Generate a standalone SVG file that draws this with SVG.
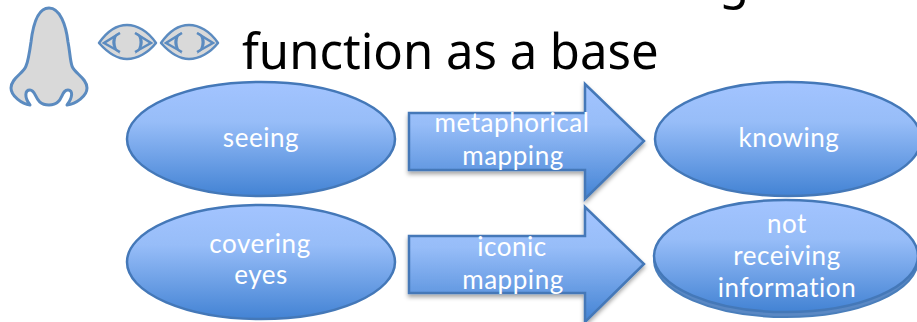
<svg xmlns="http://www.w3.org/2000/svg" width="917" height="322" viewBox="0 0 917 322">
<style>
.t{font-family:"Noto Sans","Open Sans",sans-serif;fill:#000;font-size:49px}
.l{font-family:"Lato","Open Sans",sans-serif;fill:#fff;font-size:26px;text-anchor:middle;letter-spacing:.55px}
.s{fill:url(#b);stroke:#4478b8;stroke-width:2.5}
.p{fill:#d9d9d9;stroke:#5b8bc0;stroke-width:3;stroke-linejoin:round}
</style>
<defs>
<linearGradient id="b" x1="0" y1="0" x2="0" y2="1"><stop offset="0" stop-color="#a3c4ff"/><stop offset=".35" stop-color="#97bdf8"/><stop offset="1" stop-color="#4383d4"/></linearGradient>
<filter id="sh" x="-10%" y="-10%" width="120%" height="125%"><feDropShadow dx="0" dy="3" stdDeviation="2" flood-color="#000" flood-opacity=".35"/></filter>
</defs>
<g id="title"><text class="t" x="242" y="69">function as a base</text><text class="t" x="719" y="-2">g</text></g>
<g id="nose"><path class="p" d="M49 8C38 8 33 25 31 42C29 56 28 62 26 66C24 73 11 78 11 88C11 96 22 104 30 105C24 97 25 90 30 90C37 90 34 105 49 105C64 105 60 90 68 90C73 90 73 97 67 105C76 104 87 96 87 88C87 78 74 73 72 66C70 60 70 52 68 42C66 25 60 8 49 8Z"/></g>
<g id="eye-left"><path class="p" style="stroke-width:2.5" d="M99 43C108 30 118 25 127 25C137 25 148 31 156 43C148 53 137 59 127 59C118 59 108 53 99 43Z"/><path fill="none" stroke="#5b8bc0" stroke-width="2.5" d="M120 33L104 43L120 52M135 33L151 43L135 52"/><path fill="#5b8bc0" d="M120 32C114 37 114 47 120 54L116 51C111 46 111 38 116 34ZM135 32C141 37 141 47 135 54L139 51C144 46 144 38 139 34Z"/></g>
<g id="eye-right"><path class="p" style="stroke-width:2.5" d="M161 43C170 30 180 25 189 25C199 25 210 31 218 43C210 53 199 59 189 59C180 59 170 53 161 43Z"/><path fill="none" stroke="#5b8bc0" stroke-width="2.5" d="M182 33L166 43L182 52M197 33L213 43L197 52"/><path fill="#5b8bc0" d="M182 32C176 37 176 47 182 54L178 51C173 46 173 38 178 34ZM197 32C203 37 203 47 197 54L201 51C206 46 206 38 201 34Z"/></g>
<g id="seeing"><ellipse class="s" cx="261" cy="139" rx="134" ry="57"/><text class="l" x="261" y="147">seeing</text></g>
<g id="knowing"><ellipse class="s" cx="788" cy="139" rx="133" ry="57"/><text class="l" x="789" y="147">knowing</text></g>
<g id="covering-eyes"><ellipse class="s" cx="261" cy="262" rx="134" ry="57"/><text class="l" x="260" y="253">covering</text><text class="l" x="261" y="284">eyes</text></g>
<g id="not-receiving-information"><ellipse cx="786" cy="260" rx="132" ry="57" fill="#5a88c4" stroke="#4a7ebb" stroke-width="2"/><ellipse class="s" cx="786" cy="256" rx="132" ry="56"/><text class="l" x="787" y="233">not</text><text class="l" x="787" y="265">receiving</text><text class="l" x="787" y="297">information</text></g>
<g id="connectors">
<g id="metaphorical-mapping"><path class="s" filter="url(#sh)" d="M409 113H585V84L644 141L585 199V170H409Z"/><text class="l" x="512" y="132">metaphorical</text><text class="l" x="513" y="165">mapping</text></g>
<g id="iconic-mapping"><path class="s" filter="url(#sh)" d="M409 236H585V207L644 264L585 322V293H409Z"/><text class="l" x="512" y="256">iconic</text><text class="l" x="513" y="289">mapping</text></g>
</g>
</svg>
